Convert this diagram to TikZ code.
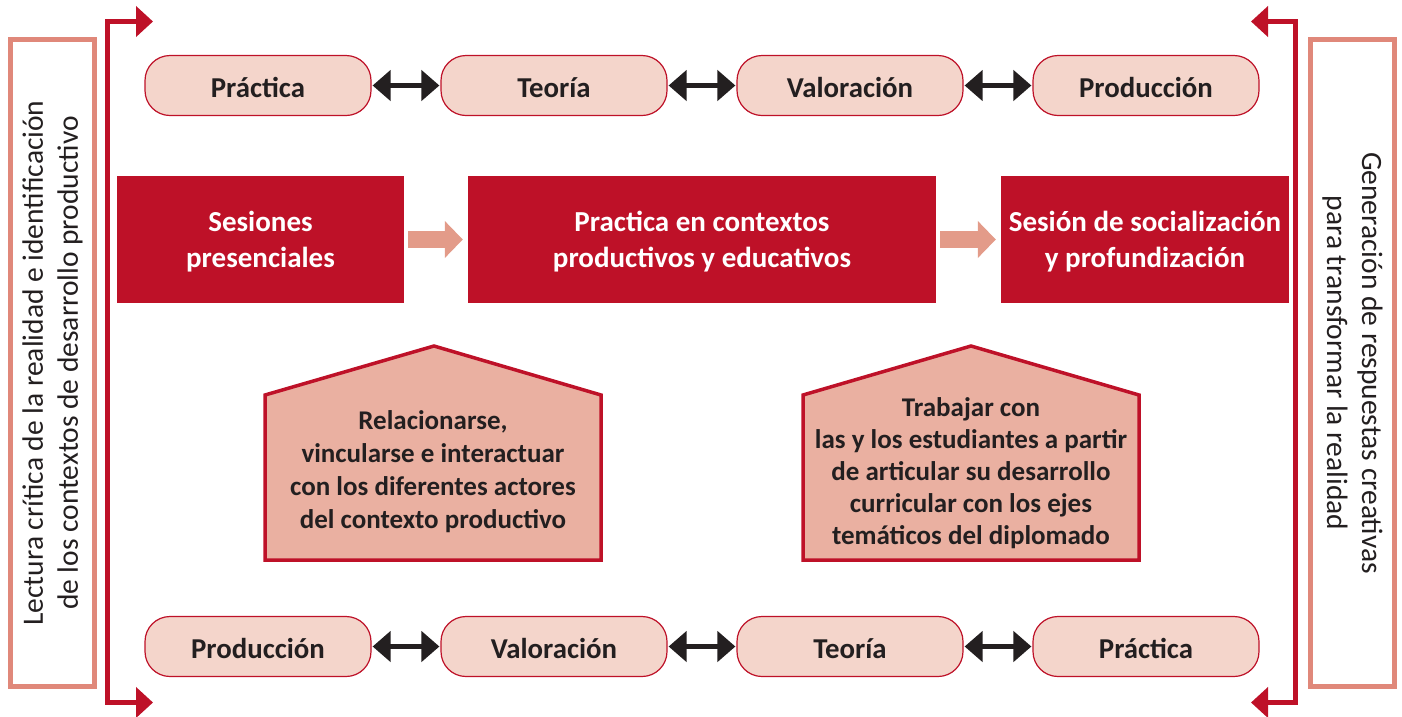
\documentclass[tikz,border=0pt]{standalone}
\usepackage{fontspec}
\setmainfont{Carlito}
\usetikzlibrary{arrows.meta}
\definecolor{cred}{HTML}{BE1128}
\definecolor{csal}{HTML}{E0887A}
\definecolor{cpill}{HTML}{F4D5CB}
\definecolor{cpent}{HTML}{EAB0A1}
\definecolor{carrow}{HTML}{E39B89}
\definecolor{ctext}{HTML}{231F20}
\tikzset{
  pill/.style={draw=cred, line width=1.2pt, fill=cpill, rounded corners=25pt,
    minimum width=226pt, minimum height=60pt, inner sep=0pt, text=ctext,
    text height=23pt, text depth=0pt,
    font=\fontsize{28.8}{34}\selectfont\bfseries},
  dbl/.style={ctext, line width=5pt, shorten <=1pt, shorten >=1pt,
    {Triangle[length=18pt,width=30pt]}-{Triangle[length=18pt,width=30pt]}},
  redbox/.style={fill=cred, minimum height=127pt, inner sep=0pt, text=white, align=center,
    text depth=0pt, font=\fontsize{29}{36}\selectfont\bfseries},
  sarrow/.style={carrow, line width=17pt, -{Triangle[length=18pt,width=36pt]}},
  pent/.style={draw=cred, line width=3.5pt, fill=cpent, line join=miter},
  penttext/.style={align=center, text=ctext, font=\fontsize{27}{33}\selectfont\bfseries},
  sidebox/.style={draw=csal, line width=5pt, minimum width=647pt, minimum height=84pt,
    inner sep=0pt, align=center, text=ctext, font=\fontsize{29.5}{35}\selectfont},
  brk/.style={cred, line width=5pt, line join=miter,
    {Triangle[length=17pt,width=30pt]}-{Triangle[length=17pt,width=30pt]}},
}
\begin{document}
\begin{tikzpicture}[x=1pt,y=-1pt]
\useasboundingbox (0,0) rectangle (1402,716);
% side boxes
\node[sidebox, rotate=90] (lbox) at (52.5,363) {Lectura crítica de la realidad e identificación\\de los contextos de desarrollo productivo};
\node[sidebox, rotate=-90] (rbox) at (1352.5,363) {Generación de respuestas creativas\\para transformar la realidad};
% brackets
\coordinate (lt) at (153,21.5);
\coordinate (lb) at (153,702.5);
\coordinate (rt) at (1251,21.5);
\coordinate (rb) at (1251,702.5);
\draw[brk] (lt) -- (107.5,21.5) -- (107.5,702.5) -- (lb);
\draw[brk] (rt) -- (1295.5,21.5) -- (1295.5,702.5) -- (rb);
% top pills
\node[pill] (p1) at (258,85.5) {Práctica};
\node[pill] (p2) at (554,85.5) {Teoría};
\node[pill] (p3) at (850,85.5) {Valoración};
\node[pill] (p4) at (1146,85.5) {Producción};
\draw[dbl] (p1) -- (p2);
\draw[dbl] (p2) -- (p3);
\draw[dbl] (p3) -- (p4);
% bottom pills
\node[pill] (q1) at (258,646.5) {Producción};
\node[pill] (q2) at (554,646.5) {Valoración};
\node[pill] (q3) at (850,646.5) {Teoría};
\node[pill] (q4) at (1146,646.5) {Práctica};
\draw[dbl] (q1) -- (q2);
\draw[dbl] (q2) -- (q3);
\draw[dbl] (q3) -- (q4);
% red boxes
\node[redbox, minimum width=287pt] (b1) at (260.5,239.5) {Sesiones\\presenciales};
\node[redbox, minimum width=468pt] (b2) at (702,239.5) {Practica en contextos\\productivos y educativos};
\node[redbox, minimum width=288pt] (b3) at (1145,239.5) {Sesión de socialización\\y profundización};
\draw[sarrow] ([xshift=4pt]b1.east) -- ([xshift=-5pt]b2.west);
\draw[sarrow] ([xshift=4pt]b2.east) -- ([xshift=-5pt]b3.west);
% pentagons
\draw[pent] (265,395) -- (434,346) -- (601,395) -- (601,560) -- (265,560) -- cycle;
\node[penttext] (t1) at (433,472) {Relacionarse,\\vincularse e interactuar\\con los diferentes actores\\del contexto productivo};
\draw[pent] (803,395) -- (971,346) -- (1139,395) -- (1139,560) -- (803,560) -- cycle;
\node[penttext, font=\fontsize{27}{32}\selectfont\bfseries] (t2) at (971,473) {Trabajar con\\las y los estudiantes a partir\\de articular su desarrollo\\curricular con los ejes\\temáticos del diplomado};
\end{tikzpicture}
\end{document}
